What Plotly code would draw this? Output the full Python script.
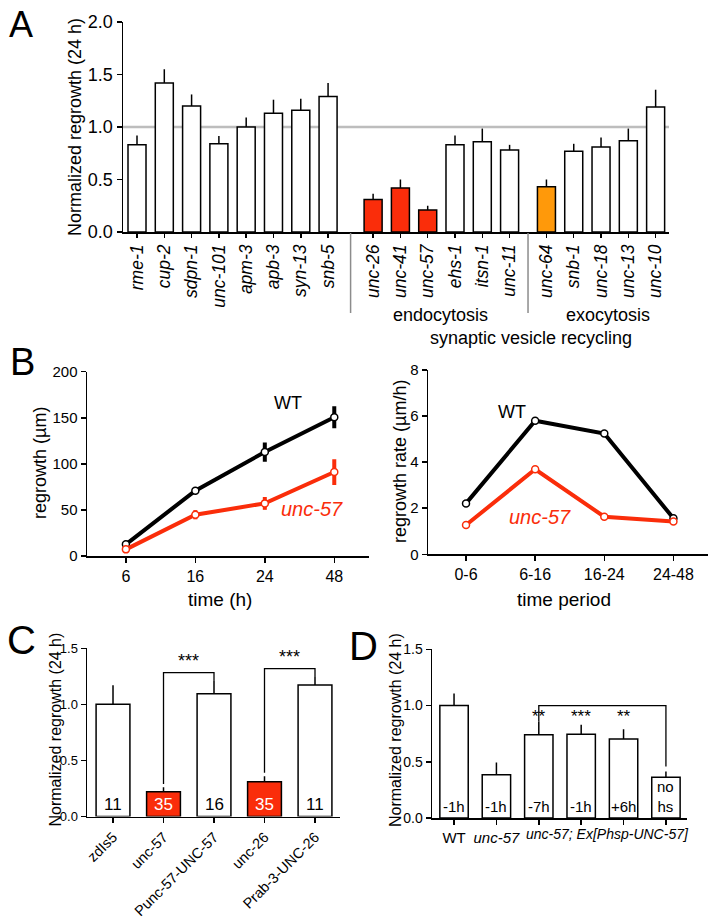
import plotly.graph_objects as go

FONT = "Liberation Sans, Arial, Helvetica, sans-serif"
W, H = 714, 917
RED = "#FA2D0A"
ORANGE = "#FF990A"


def px(x):
    return x / W


def py(y):
    return 1 - y / H


# ---------------- Panel A data ----------------
a_genes = ["rme-1", "cup-2", "sdpn-1", "unc-101", "apm-3", "apb-3", "syn-13", "snb-5",
           "unc-26", "unc-41", "unc-57", "ehs-1", "itsn-1", "unc-11",
           "unc-64", "snb-1", "unc-18", "unc-13", "unc-10"]
a_group = [0] * 8 + [1] * 6 + [2] * 5
a_values = [0.83, 1.42, 1.20, 0.84, 1.00, 1.13, 1.16, 1.29,
            0.31, 0.42, 0.21, 0.83, 0.86, 0.78,
            0.43, 0.77, 0.81, 0.87, 1.19]
a_errors = [0.09, 0.13, 0.11, 0.075, 0.09, 0.13, 0.11, 0.13,
            0.055, 0.08, 0.04, 0.09, 0.125, 0.05,
            0.07, 0.07, 0.09, 0.115, 0.165]
a_group_names = ["", "endocytosis", "exocytosis"]
a_super_label = "synaptic vesicle recycling"

# ---------------- Panel B data ----------------
b_times = ["6", "16", "24", "48"]
b_wt = [12.7, 70.9, 112.8, 150.5]
b_wt_err = [2, 2.5, 10.5, 12]
b_unc = [7.2, 44.8, 57.1, 91.1]
b_unc_err = [2, 5, 7, 14]
b_periods = ["0-6", "6-16", "16-24", "24-48"]
b_wt_rate = [2.21, 5.80, 5.24, 1.56]
b_unc_rate = [1.27, 3.69, 1.63, 1.42]

# ---------------- Panel C data ----------------
c_labels = ["zdIs5", "unc-57", "Punc-57-UNC-57", "unc-26", "Prab-3-UNC-26"]
c_values = [1.0, 0.22, 1.095, 0.31, 1.173]
c_errors = [0.17, 0.04, 0.12, 0.05, 0.07]
c_n = ["11", "35", "16", "35", "11"]
c_brackets = [(1, 2, 1.283, "***"), (3, 4, 1.318, "***")]

# ---------------- Panel D data ----------------
d_genotype = ["WT", "unc-57", "unc-57; Ex[Phsp-UNC-57]", "unc-57; Ex[Phsp-UNC-57]",
              "unc-57; Ex[Phsp-UNC-57]", "unc-57; Ex[Phsp-UNC-57]"]
d_hs = ["-1h", "-1h", "-7h", "-1h", "+6h", "no<br>hs"]
d_values = [1.0, 0.384, 0.741, 0.744, 0.702, 0.363]
d_errors = [0.107, 0.11, 0.116, 0.086, 0.087, 0.05]
d_stars = ["", "", "**", "***", "**", ""]
d_bracket = (2, 5, 1.0)

# ---------------- styles ----------------
a_highlight = {"unc-26": RED, "unc-41": RED, "unc-57": RED, "unc-64": ORANGE}
a_group_gap = [0.0, 0.65, 1.0]
c_highlight = {"unc-57": RED, "unc-26": RED}

a_pos = [i + a_group_gap[g] for i, g in enumerate(a_group)]
a_colors = [a_highlight.get(g, "white") for g in a_genes]
c_colors = [c_highlight.get(l, "white") for l in c_labels]

fig = go.Figure()

# Panel A bars
fig.add_trace(go.Bar(
    x=a_pos, y=a_values, width=0.66,
    marker=dict(color=a_colors, line=dict(color="black", width=1.5)),
    error_y=dict(type="data", array=a_errors, arrayminus=[0] * len(a_errors),
                 symmetric=False, thickness=1.5, width=0, color="black"),
    xaxis="x", yaxis="y", showlegend=False, hoverinfo="skip"))

# Panel B left
fig.add_trace(go.Scatter(
    x=b_times, y=b_wt, mode="lines+markers",
    line=dict(color="black", width=4),
    marker=dict(symbol="circle", size=7, color="white", line=dict(color="black", width=1.5)),
    error_y=dict(type="data", array=b_wt_err, thickness=4, width=0, color="black"),
    xaxis="x2", yaxis="y2", showlegend=False))
fig.add_trace(go.Scatter(
    x=b_times, y=b_unc, mode="lines+markers",
    line=dict(color=RED, width=4),
    marker=dict(symbol="circle", size=7, color="white", line=dict(color=RED, width=1.5)),
    error_y=dict(type="data", array=b_unc_err, thickness=4, width=0, color=RED),
    xaxis="x2", yaxis="y2", showlegend=False))

# Panel B right
fig.add_trace(go.Scatter(
    x=b_periods, y=b_wt_rate, mode="lines+markers",
    line=dict(color="black", width=4),
    marker=dict(symbol="circle", size=7, color="white", line=dict(color="black", width=1.5)),
    xaxis="x3", yaxis="y3", showlegend=False))
fig.add_trace(go.Scatter(
    x=b_periods, y=b_unc_rate, mode="lines+markers",
    line=dict(color=RED, width=4),
    marker=dict(symbol="circle", size=7, color="white", line=dict(color=RED, width=1.5)),
    xaxis="x3", yaxis="y3", showlegend=False))

# Panel C bars
c_idx = list(range(len(c_labels)))
fig.add_trace(go.Bar(
    x=c_idx, y=c_values, width=0.67,
    marker=dict(color=c_colors, line=dict(color="black", width=1.5)),
    error_y=dict(type="data", array=c_errors, arrayminus=[0] * len(c_errors),
                 symmetric=False, thickness=1.5, width=0, color="black"),
    xaxis="x4", yaxis="y4", showlegend=False, hoverinfo="skip"))
for (i, j, h, lab) in c_brackets:
    fig.add_trace(go.Scatter(
        x=[i, i, j, j],
        y=[c_values[i] + c_errors[i] + 0.03, h, h, c_values[j] + c_errors[j]],
        mode="lines", line=dict(color="black", width=1.3),
        xaxis="x4", yaxis="y4", showlegend=False, hoverinfo="skip"))

# Panel D bars
d_idx = list(range(len(d_values)))
fig.add_trace(go.Bar(
    x=d_idx, y=d_values, width=0.67,
    marker=dict(color="white", line=dict(color="black", width=1.5)),
    error_y=dict(type="data", array=d_errors, arrayminus=[0] * len(d_errors),
                 symmetric=False, thickness=1.5, width=0, color="black"),
    xaxis="x5", yaxis="y5", showlegend=False, hoverinfo="skip"))
di, dj, dh = d_bracket
fig.add_trace(go.Scatter(
    x=[di, di, dj, dj],
    y=[d_values[di] + d_errors[di], dh, dh, d_values[dj] + d_errors[dj] + 0.045],
    mode="lines", line=dict(color="black", width=1.3),
    xaxis="x5", yaxis="y5", showlegend=False, hoverinfo="skip"))


def axis_style(**kw):
    base = dict(showgrid=False, zeroline=False, showline=True, linecolor="black",
                linewidth=1.5, ticks="outside", ticklen=5, tickwidth=1.5,
                tickcolor="black", automargin=False,
                tickfont=dict(family=FONT, size=16, color="black"))
    base.update(kw)
    return base


lay = dict(
    width=W, height=H, autosize=False,
    margin=dict(l=0, r=0, t=0, b=0),
    paper_bgcolor="white", plot_bgcolor="rgba(0,0,0,0)",
    font=dict(family=FONT, color="black"),
    bargap=0,
)

# A axes
lay["xaxis"] = axis_style(domain=[px(123), px(669)], range=[-0.513, 19.49],
                          tickvals=a_pos, ticktext=["<i>%s</i>" % g for g in a_genes],
                          tickangle=-90, ticklen=4, anchor="y",
                          tickfont=dict(family=FONT, size=17.5, color="black"))
lay["yaxis"] = axis_style(domain=[py(232), py(22)], range=[0, 2.0], dtick=0.5,
                          tickformat=".1f", anchor="x",
                          tickfont=dict(family=FONT, size=18, color="black"))
# B left
lay["xaxis2"] = axis_style(domain=[px(87), px(369)], range=[-0.56, 3.5],
                           type="category", anchor="y2")
lay["yaxis2"] = axis_style(domain=[py(556), py(371.7)], range=[0, 200], dtick=50,
                           anchor="x2", tickfont=dict(family=FONT, size=15, color="black"))
# B right
lay["xaxis3"] = axis_style(domain=[px(428), px(708)], range=[-0.55, 3.5],
                           type="category", anchor="y3")
lay["yaxis3"] = axis_style(domain=[py(554.3), py(370)], range=[0, 8], dtick=2,
                           anchor="x3", tickfont=dict(family=FONT, size=15, color="black"))
# C
lay["xaxis4"] = axis_style(domain=[px(87), px(340)], range=[-0.515, 4.495],
                           tickvals=c_idx, ticktext=c_labels, tickangle=-45, anchor="y4",
                           tickfont=dict(family=FONT, size=14.5, color="black"))
lay["yaxis4"] = axis_style(domain=[py(816.5), py(648.3)], range=[0, 1.5], dtick=0.5,
                           tickformat=".1f", anchor="x4",
                           tickfont=dict(family=FONT, size=13, color="black"))
# D
d_ticktext = []
for k, g in enumerate(d_genotype):
    if d_genotype.count(g) > 1:
        d_ticktext.append("")
    elif g == "WT":
        d_ticktext.append(g)
    else:
        d_ticktext.append("<i>%s</i>" % g)
lay["xaxis5"] = axis_style(domain=[px(432), px(686.7)], range=[-0.52, 5.49],
                           tickvals=d_idx, ticktext=d_ticktext, anchor="y5",
                           tickfont=dict(family=FONT, size=15, color="black"))
lay["yaxis5"] = axis_style(domain=[py(818), py(649.3)], range=[0, 1.5], dtick=0.5,
                           tickformat=".1f", anchor="x5",
                           tickfont=dict(family=FONT, size=14, color="black"))

ann = []
shapes = []


def text(x, y, t, size, xref="paper", yref="paper", angle=0, color="black",
         xanchor="center", yanchor="middle"):
    ann.append(dict(x=x, y=y, xref=xref, yref=yref, text=t, showarrow=False,
                    textangle=angle, xanchor=xanchor, yanchor=yanchor,
                    font=dict(family=FONT, size=size, color=color)))


# panel letters
text(px(21), py(25), "A", 36)
text(px(23), py(362), "B", 38)
text(px(21), py(640), "C", 40)
text(px(363), py(646), "D", 40)

# A extras
text(px(75), py(127), "Normalized regrowth (24 h)", 18, angle=-90)
shapes.append(dict(type="line", xref="x domain", yref="y", x0=0, x1=1, y0=1.0, y1=1.0,
                   line=dict(color="#BDBDBD", width=2.5), layer="below"))
for g in (1, 2):
    left = max(p for p, gg in zip(a_pos, a_group) if gg == g - 1)
    right = min(p for p, gg in zip(a_pos, a_group) if gg == g)
    mid = (left + right) / 2
    shapes.append(dict(type="line", xref="x", yref="paper", x0=mid, x1=mid,
                       y0=py(233), y1=py(313), line=dict(color="#8C8C8C", width=1.5)))
text(px(440), py(315), a_group_names[1], 18)
text(px(608), py(315), a_group_names[2], 18)
text(px(531), py(338), a_super_label, 18)

# B extras
text(px(40), py(463), "regrowth (µm)", 18, angle=-90)
text(px(220), py(599), "time (h)", 19)
text(px(288), py(403), "WT", 18)
text(px(312), py(509), "<i>unc-57</i>", 20, color=RED)
text(px(400), py(462), "regrowth rate (µm/h)", 18, angle=-90)
text(px(564), py(599), "time period", 19)
text(px(512), py(412), "WT", 18)
text(px(540), py(517), "<i>unc-57</i>", 20, color=RED)

# C extras
text(px(54.5), py(730), "Normalized regrowth (24 h)", 16, angle=-90)
for i, n in enumerate(c_n):
    text(i, 0.005, n, 17, xref="x4", yref="y4", yanchor="bottom",
         color="white" if c_colors[i] != "white" else "black")
for (i, j, h, lab) in c_brackets:
    text((i + j) / 2, h, lab, 18, xref="x4", yref="y4", yanchor="bottom")

# D extras
text(px(395), py(730), "Normalized regrowth (24 h)", 16, angle=-90)
for i, t in enumerate(d_hs):
    text(i, 0.005, t, 15, xref="x5", yref="y5", yanchor="bottom")
for i, s in enumerate(d_stars):
    if s:
        text(i, dh - 0.2, s, 17, xref="x5", yref="y5", yanchor="bottom")
grp = [k for k, g in enumerate(d_genotype) if d_genotype.count(g) > 1]
text(px(607), py(834), "<i>%s</i>" % d_genotype[grp[0]], 14)

lay["annotations"] = ann
lay["shapes"] = shapes
fig.update_layout(**lay)
fig.write_html("out.html", config={"displayModeBar": False, "staticPlot": True},
               post_script="document.body.style.margin='0';document.body.style.padding='0';"
                           "document.documentElement.style.overflow='hidden';")
